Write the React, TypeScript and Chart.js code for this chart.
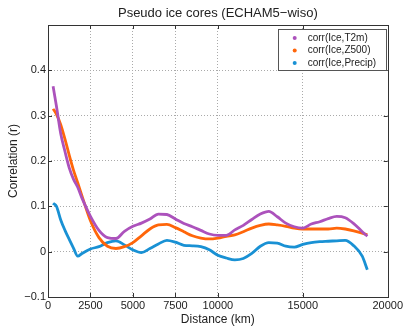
import React, { useEffect, useRef } from 'react';
import { Chart, registerables } from 'chart.js';
Chart.register(...registerables);

const distanceKm = [300, 500, 750, 1000, 1250, 1500, 1750, 2000, 2500, 3000, 3500, 4000, 4500, 5000, 5500, 6000, 6500, 7000, 7500, 8000, 8500, 9000, 9500, 10000, 10500, 11000, 11500, 12000, 12500, 13000, 13500, 14000, 14500, 15000, 15500, 16000, 16500, 17000, 17500, 18000, 18500, 18800];
const corrT2m = [0.365, 0.32, 0.26, 0.221, 0.185, 0.16, 0.142, 0.118, 0.078, 0.047, 0.031, 0.029, 0.045, 0.056, 0.063, 0.072, 0.083, 0.082, 0.072, 0.062, 0.055, 0.047, 0.039, 0.036, 0.036, 0.048, 0.058, 0.071, 0.083, 0.089, 0.077, 0.063, 0.055, 0.052, 0.061, 0.066, 0.073, 0.078, 0.075, 0.062, 0.044, 0.034];
const corrZ500 = [0.315, 0.303, 0.28, 0.248, 0.213, 0.18, 0.152, 0.123, 0.068, 0.031, 0.012, 0.007, 0.011, 0.02, 0.035, 0.05, 0.059, 0.06, 0.053, 0.044, 0.035, 0.03, 0.028, 0.03, 0.034, 0.037, 0.044, 0.052, 0.058, 0.061, 0.059, 0.056, 0.052, 0.05, 0.05, 0.05, 0.05, 0.052, 0.05, 0.046, 0.041, 0.037];
const corrPrecip = [0.107, 0.1, 0.07, 0.047, 0.027, 0.008, -0.01, -0.004, 0.006, 0.011, 0.02, 0.024, 0.015, 0.004, -0.002, 0.007, 0.017, 0.025, 0.021, 0.014, 0.013, 0.011, 0.004, -0.008, -0.014, -0.018, -0.015, -0.004, 0.012, 0.02, 0.019, 0.012, 0.01, 0.016, 0.02, 0.022, 0.023, 0.024, 0.025, 0.013, -0.01, -0.04];

const chartTitle = 'Pseudo ice cores (ECHAM5\u2212wiso)';
const seriesLabels = ['corr(Ice,T2m)', 'corr(Ice,Z500)', 'corr(Ice,Precip)'];
const seriesColors = ['rgb(172,82,188)', 'rgb(255,102,10)', 'rgb(25,145,212)'];
const xTickValues = [0, 2500, 5000, 7500, 10000, 15000, 20000];
const yTickValues = [-0.1, 0, 0.1, 0.2, 0.3, 0.4];
const yTickLabels = ['\u22120.1', '0', '0.1', '0.2', '0.3', '0.4'];

const FONT = "'Liberation Sans', Arial, Helvetica, sans-serif";
const TEXT = '#222';

const framePlugin = {
  id: 'frame',
  afterDatasetsDraw(chart: any) {
    const { ctx, chartArea: a, scales } = chart;
    ctx.save();
    ctx.strokeStyle = '#333';
    ctx.lineWidth = 1;
    ctx.strokeRect(Math.round(a.left) + 0.5, Math.round(a.top) + 0.5, Math.round(a.right - a.left), Math.round(a.bottom - a.top));
    const tl = 4;
    ctx.beginPath();
    scales.x.ticks.forEach((t: any) => {
      const px = Math.round(scales.x.getPixelForValue(t.value)) + 0.5;
      ctx.moveTo(px, a.bottom); ctx.lineTo(px, a.bottom - tl);
      ctx.moveTo(px, a.top); ctx.lineTo(px, a.top + tl);
    });
    scales.y.ticks.forEach((t: any) => {
      const py = Math.round(scales.y.getPixelForValue(t.value)) + 0.5;
      ctx.moveTo(a.left, py); ctx.lineTo(a.left + tl, py);
      ctx.moveTo(a.right, py); ctx.lineTo(a.right - tl, py);
    });
    ctx.stroke();
    // title centred over the plot area
    ctx.fillStyle = TEXT;
    ctx.font = `13px ${FONT}`;
    ctx.textAlign = 'center';
    ctx.textBaseline = 'middle';
    ctx.fillText(chartTitle, (a.left + a.right) / 2, 13);
    ctx.restore();
  },
};

const legendPlugin = {
  id: 'boxLegend',
  afterDraw(chart: any) {
    const { ctx, chartArea: a } = chart;
    const w = 108, h = 41;
    const x0 = a.right - 2 - w, y0 = a.top + 4;
    ctx.save();
    ctx.fillStyle = '#fff';
    ctx.fillRect(x0, y0, w, h);
    ctx.strokeStyle = '#555';
    ctx.lineWidth = 1;
    ctx.strokeRect(Math.round(x0) + 0.5, Math.round(y0) + 0.5, w, h);
    ctx.font = `10px ${FONT}`;
    ctx.textBaseline = 'middle';
    ctx.textAlign = 'left';
    chart.data.datasets.forEach((ds: any, i: number) => {
      const cy = y0 + 9 + i * 12.5;
      ctx.fillStyle = ds.borderColor;
      ctx.beginPath();
      ctx.arc(x0 + 17, cy, 2, 0, Math.PI * 2);
      ctx.fill();
      ctx.fillStyle = TEXT;
      ctx.fillText(ds.label, x0 + 30, cy);
    });
    ctx.restore();
  },
};

export default function App() {
  const ref = useRef<HTMLCanvasElement>(null);
  useEffect(() => {
    if (!ref.current) return;
    const series = [corrT2m, corrZ500, corrPrecip];
    const chart = new Chart(ref.current, {
      type: 'line',
      data: {
        datasets: series.map((vals, i) => ({
          label: seriesLabels[i],
          data: distanceKm.map((d, j) => ({ x: d, y: vals[j] })),
          borderColor: seriesColors[i],
          backgroundColor: seriesColors[i],
          borderWidth: 2.8,
          pointRadius: 0,
          cubicInterpolationMode: 'monotone',
          fill: false,
        })),
      },
      options: {
        responsive: false,
        animation: false,
        layout: { padding: { left: 0, right: 15, top: 25, bottom: 0 } },
        plugins: {
          legend: { display: false },
          tooltip: { enabled: false },
          title: { display: false },
        },
        scales: {
          x: {
            type: 'linear',
            min: 0,
            max: 20000,
            afterBuildTicks: (s: any) => { s.ticks = xTickValues.map((v) => ({ value: v })); },
            afterFit: (s: any) => { s.height = 29; },
            ticks: {
              color: TEXT,
              font: { family: FONT, size: 11 },
              padding: 2,
              maxRotation: 0,
              autoSkip: false,
              callback: (v: any) => String(v),
            },
            grid: {
              drawTicks: false,
              color: (c: any) => (c.tick && (c.tick.value === 0 || c.tick.value === 20000) ? 'rgba(0,0,0,0)' : '#aaa'),
              lineWidth: 1,
            },
            border: { display: false, dash: [1, 2] },
            title: {
              display: true,
              text: 'Distance (km)',
              color: TEXT,
              font: { family: FONT, size: 12, lineHeight: 1 },
              padding: { top: 0, bottom: 0 },
            },
          },
          y: {
            type: 'linear',
            min: -0.1,
            max: 0.5,
            afterBuildTicks: (s: any) => { s.ticks = yTickValues.map((v) => ({ value: v })); },
            afterFit: (s: any) => { s.width = 48; },
            ticks: {
              color: TEXT,
              font: { family: FONT, size: 11 },
              padding: 2,
              autoSkip: false,
              callback: (v: any) => {
                const k = yTickValues.findIndex((t) => Math.abs(t - v) < 1e-9);
                return k >= 0 ? yTickLabels[k] : '';
              },
            },
            grid: {
              drawTicks: false,
              color: (c: any) => (c.tick && Math.abs(c.tick.value + 0.1) < 1e-9 ? 'rgba(0,0,0,0)' : '#aaa'),
              lineWidth: 1,
            },
            border: { display: false, dash: [1, 2] },
            title: {
              display: true,
              text: 'Correlation (r)',
              color: TEXT,
              font: { family: FONT, size: 12 },
              padding: { top: 6, bottom: 0 },
            },
          },
        },
      },
      plugins: [framePlugin, legendPlugin],
    });
    return () => chart.destroy();
  }, []);
  return (
    <div style={{ position: 'absolute', left: 0, top: 0, width: 405, height: 326, background: '#fff' }}>
      <canvas ref={ref} width={405} height={326} style={{ display: 'block' }} />
    </div>
  );
}
